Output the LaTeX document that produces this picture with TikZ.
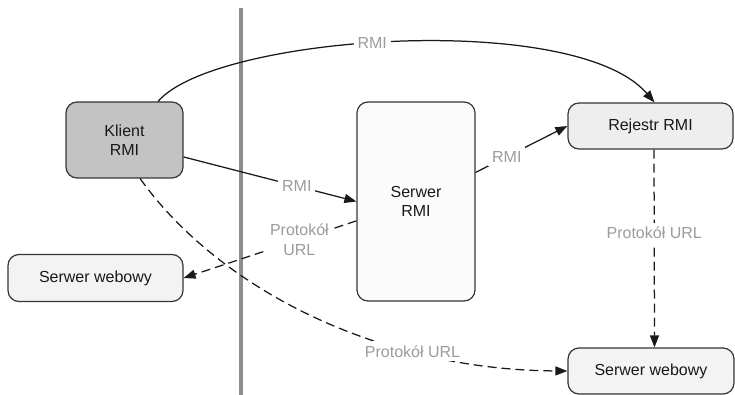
\documentclass[tikz,border=0pt]{standalone}
\usepackage{fontspec}
\setmainfont{Liberation Sans}
\usetikzlibrary{arrows.meta}
\definecolor{boxline}{HTML}{353535}
\definecolor{klientfill}{HTML}{C3C3C3}
\definecolor{serwerfill}{HTML}{FBFBFB}
\definecolor{rejfill}{HTML}{EEEEEE}
\definecolor{webfill}{HTML}{F3F3F3}
\definecolor{labgray}{HTML}{9C9C9C}
\definecolor{sepgray}{HTML}{8E8E8E}
\begin{document}
\begin{tikzpicture}[x=1pt,y=-1pt,
  box/.style={draw=boxline, line width=1.2pt, rounded corners=11pt, align=center, inner sep=0pt,
    font=\fontsize{16}{19}\selectfont, text=black!90},
  conn/.style={draw=black!90, line width=1.25pt, -{Triangle[length=12pt,width=9pt]}},
  dashconn/.style={conn, dash pattern=on 9pt off 5pt},
  lab/.style={fill=white, text=labgray, font=\fontsize{16}{20}\selectfont, inner sep=4pt, align=center, solid},
]
\useasboundingbox (0,0) rectangle (735,395);
% separator
\coordinate (septop) at (241,8);
\coordinate (sepbot) at (241,395);
\draw[sepgray, line width=3.5pt] (septop) -- (sepbot);

% nodes
\node[box, fill=klientfill, minimum width=117pt, minimum height=76pt] (klient) at (124.5,140) {Klient\\RMI};
\node[box, fill=serwerfill, minimum width=118pt, minimum height=199pt] (serwer) at (416,201.5) {Serwer\\RMI};
\node[box, fill=rejfill, minimum width=165pt, minimum height=46pt] (rej) at (650.5,126) {Rejestr RMI};
\node[box, fill=webfill, minimum width=175pt, minimum height=47pt] (web1) at (95.5,278) {Serwer webowy};
\node[box, fill=webfill, minimum width=166pt, minimum height=46pt] (web2) at (651,371) {Serwer webowy};

% connectors
\draw[conn] (klient.49) .. controls (215,35) and (575,10) .. node[lab, pos=0.46] {RMI} ([xshift=4pt]rej.north);
\draw[conn] (klient.-16) -- node[lab, pos=0.655] {RMI} (serwer.west);
\draw[conn] (serwer.26) -- node[lab, pos=0.34] {RMI} (rej.west);
\draw[dashconn] (serwer.198) -- node[lab, pos=0.33] {Protokół\\URL} (web1.east);
\draw[dashconn] (klient.-68) .. controls (220,290) and (380,370) .. node[lab, pos=0.71] {Protokół URL} (web2.west);
\draw[dashconn] ([xshift=3.5pt]rej.south) -- node[lab, pos=0.42] {Protokół URL} ([xshift=3.5pt]web2.north);
\end{tikzpicture}
\end{document}
